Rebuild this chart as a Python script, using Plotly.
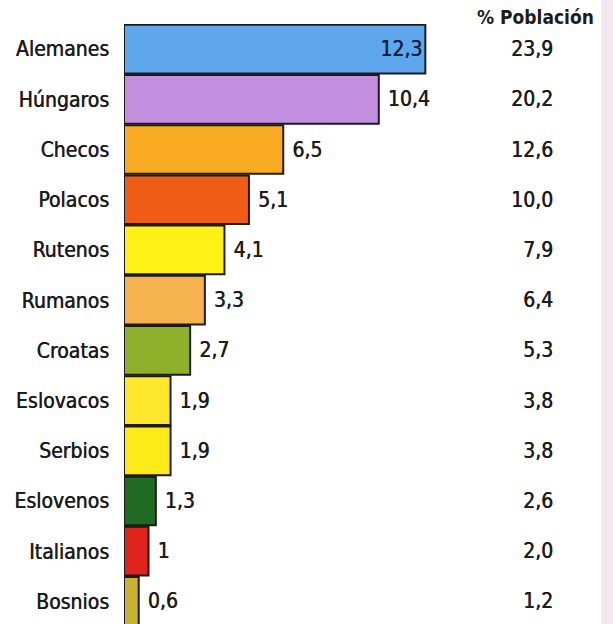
import plotly.graph_objects as go

GROUPS = ["Alemanes", "Húngaros", "Checos", "Polacos", "Rutenos", "Rumanos",
          "Croatas", "Eslovacos", "Serbios", "Eslovenos", "Italianos", "Bosnios"]
MILLIONS = [12.3, 10.4, 6.5, 5.1, 4.1, 3.3, 2.7, 1.9, 1.9, 1.3, 1, 0.6]
POP_PCT = [23.9, 20.2, 12.6, 10.0, 7.9, 6.4, 5.3, 3.8, 3.8, 2.6, 2.0, 1.2]
BAR_COLORS = ["#5ea7ec", "#c390e0", "#f8aa22", "#ef5c16", "#fff015", "#f6b24e",
              "#8fb02a", "#ffe72c", "#ffeb1a", "#1f6b22", "#e0231d", "#c8b234"]

FONT = "DejaVu Sans Condensed, sans-serif"
INK = "#1c1c1c"
FS = 21
SHADOW = "0.5px 0 0 #1c1c1c"   # fakes a slightly heavier weight

def comma(v, fmt="g"):
    return format(v, fmt).replace(".", ",")

def txt(color=INK):
    return dict(family=FONT, size=FS, color=color, shadow=SHADOW)

bar_text = [comma(v) if i == 0 else "\u00a0" + comma(v) for i, v in enumerate(MILLIONS)]
positions = ["inside"] + ["outside"] * (len(MILLIONS) - 1)

fig = go.Figure()
fig.add_trace(go.Bar(
    x=MILLIONS, y=GROUPS, orientation="h",
    marker=dict(color=BAR_COLORS, line=dict(color=INK, width=2)),
    text=bar_text, textposition=positions, insidetextanchor="end",
    insidetextfont=dict(family=FONT, size=FS, color="#14213d", shadow="0.5px 0 0 #14213d"),
    outsidetextfont=txt(),
    cliponaxis=False,
))

# % poblacion column, right aligned
annotations = [dict(
    text=comma(p, ".1f"), x=0.882, xref="paper", y=g, yref="y",
    xanchor="right", yanchor="middle", showarrow=False, font=txt(),
) for g, p in zip(GROUPS, POP_PCT)]
annotations.append(dict(
    text="<b>% Población</b>", x=0.8425, xref="paper", y=1.0117, yref="paper",
    xanchor="center", yanchor="middle", showarrow=False,
    font=dict(family=FONT, size=19, color=INK),
))

fig.update_layout(
    width=613, height=624,
    margin=dict(l=124, r=0, t=24, b=0, autoexpand=False),
    paper_bgcolor="white", plot_bgcolor="rgba(0,0,0,0)",
    font=dict(family=FONT, size=FS, color=INK),
    bargap=0.03,
    showlegend=False,
    xaxis=dict(range=[0, 19.96], visible=False, fixedrange=True, automargin=False),
    yaxis=dict(range=[11.45, -0.5], showgrid=False, zeroline=False, ticks="",
               automargin=False, ticklabelstandoff=14, tickfont=txt()),
    annotations=annotations,
    shapes=[dict(type="rect", xref="paper", yref="paper", x0=0.9755, x1=1.0,
                 y0=0, y1=1.04, fillcolor="#f4e7ef", line_width=0, layer="below")],
)

# drop the default 8px body margin so the figure fills the window exactly
fig.write_html("out.html", config={"displayModeBar": False},
               post_script="document.body.style.margin='0';document.body.style.overflow='hidden';")
